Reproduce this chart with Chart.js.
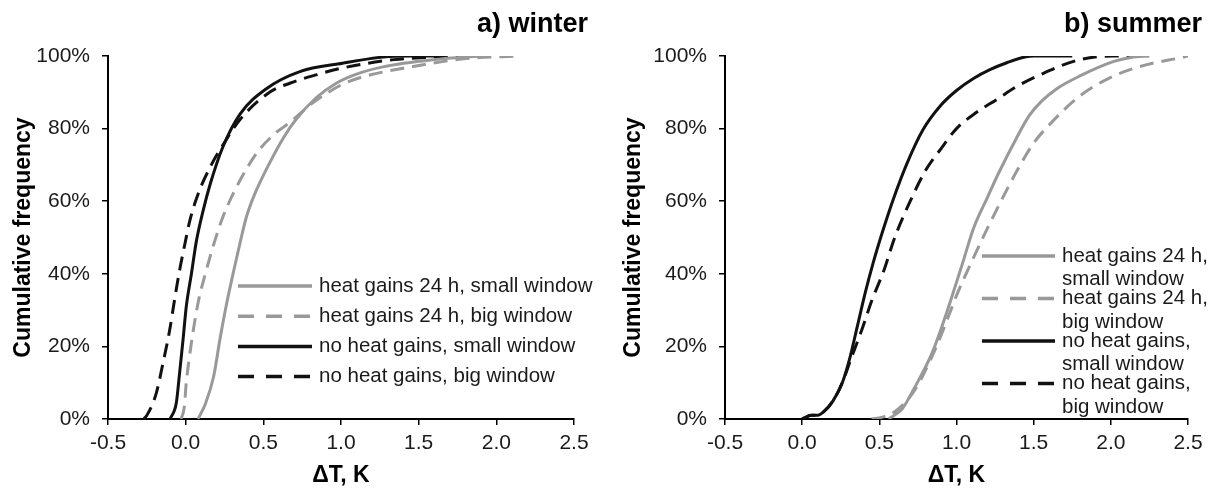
<!DOCTYPE html>
<html>
<head>
<meta charset="utf-8">
<script src="https://cdn.jsdelivr.net/npm/chart.js@4.4.1/dist/chart.umd.min.js"></script>
<style>
  html, body { margin: 0; padding: 0; background: #fff; }
  .panel { position: absolute; top: 0; height: 490px; }
  #winter { left: 0; width: 600px; }
  #summer { left: 610px; width: 604px; }
</style>
</head>
<body>
<div class="panel" id="winter"><canvas id="winterCanvas"></canvas></div>
<div class="panel" id="summer"><canvas id="summerCanvas"></canvas></div>
<script>
const seriesLabels = [
  'heat gains 24 h, small window',
  'heat gains 24 h, big window',
  'no heat gains, small window',
  'no heat gains, big window',
];
const xTicks = [-0.5, 0, 0.5, 1, 1.5, 2, 2.5];
const yTicks = [0, 20, 40, 60, 80, 100];

// a) winter, cumulative frequency (%) against dT (K)
const winterHeatSmallX = [0.08, 0.13, 0.18, 0.22, 0.26, 0.305, 0.35, 0.39, 0.445, 0.54, 0.63, 0.71, 0.84, 0.97, 1.1, 1.27, 1.6, 1.9];
const winterHeatSmallY = [0, 4.5, 11.7, 21.8, 31, 40, 48.5, 55.5, 62, 70.5, 77.5, 82.5, 88.5, 92.5, 95, 97, 99, 100];
const winterHeatBigX = [-0.03, -0.01, 0.004, 0.037, 0.08, 0.133, 0.187, 0.24, 0.305, 0.4, 0.48, 0.585, 0.68, 0.8, 0.9, 1.0, 1.12, 1.45, 1.81, 2.15];
const winterHeatBigY = [0, 3, 10, 21, 32, 41, 49, 55.7, 62, 69.5, 74.5, 79, 82, 86.5, 89.5, 92, 94, 97, 99.3, 100];
const winterNoHeatSmallX = [-0.1, -0.06, -0.039, -0.017, 0.004, 0.037, 0.069, 0.11, 0.16, 0.24, 0.35, 0.52, 0.735, 1.01, 1.27, 1.45, 1.6];
const winterNoHeatSmallY = [0, 4.5, 12.7, 21.8, 31, 40, 49, 57, 65, 75, 84, 91, 95.7, 98, 99.7, 100, 100];
const winterNoHeatBigX = [-0.27, -0.25, -0.19, -0.146, -0.103, -0.071, -0.039, -0.006, 0.026, 0.08, 0.165, 0.24, 0.35, 0.54, 0.67, 0.84, 1.01, 1.34, 1.6, 1.8];
const winterNoHeatBigY = [0, 1, 7, 15.4, 24.5, 33, 41, 48, 54.5, 62, 70, 75.5, 82.5, 90, 92.5, 94.8, 96.7, 99, 99.7, 100];

// b) summer
const summerHeatSmallX = [0.56, 0.65, 0.72, 0.84, 0.93, 0.98, 1.04, 1.11, 1.2, 1.27, 1.39, 1.47, 1.55, 1.65, 1.8, 2.02, 2.13, 2.25];
const summerHeatSmallY = [0, 2.9, 8, 18, 28.5, 35, 43, 52.5, 61, 67.5, 77.5, 83.5, 87.5, 91, 94.5, 98.5, 99.6, 100];
const summerHeatBigX = [0.45, 0.52, 0.6, 0.73, 0.86, 0.95, 1.01, 1.1, 1.2, 1.3, 1.4, 1.5, 1.6, 1.8, 2.02, 2.24, 2.45, 2.5];
const summerHeatBigY = [0, 0.5, 2, 8, 19, 28.5, 35, 43.5, 52.5, 61, 69, 76, 81, 89, 94.5, 97.7, 99.5, 100];
const summerNoHeatSmallX = [0.0, 0.06, 0.1, 0.14, 0.2, 0.26, 0.31, 0.36, 0.41, 0.46, 0.52, 0.59, 0.68, 0.78, 0.9, 1.0, 1.11, 1.22, 1.33, 1.45, 1.5, 1.75];
const summerNoHeatSmallY = [0, 1, 1, 2, 5, 10, 17, 26, 35, 43, 51.5, 60.5, 70.5, 79.5, 86.5, 90.5, 93.8, 96.3, 98.2, 99.8, 100, 100];
const summerNoHeatBigX = [0.0, 0.06, 0.1, 0.14, 0.2, 0.26, 0.32, 0.39, 0.45, 0.53, 0.6, 0.7, 0.8, 0.9, 1.0, 1.13, 1.26, 1.39, 1.55, 1.8, 2.02, 2.24];
const summerNoHeatBigY = [0, 1, 1, 2, 5, 10, 17, 25, 32.5, 41, 50, 60, 68.5, 74.5, 80, 84.5, 88, 91.6, 95, 99, 100, 100];

const FONT = "'Liberation Sans', Arial, sans-serif";
const GREY = '#999999';
const BLACK = '#111111';
const DASH = [14, 8];

function points(xs, ys) {
  return xs.map((x, i) => ({ x, y: ys[i] }));
}

function makeDatasets(series) {
  const styles = [
    { color: GREY, dash: [] },
    { color: GREY, dash: DASH },
    { color: BLACK, dash: [] },
    { color: BLACK, dash: DASH },
  ];
  return series.map((s, idx) => ({
    label: seriesLabels[idx],
    data: points(s[0], s[1]),
    borderColor: styles[idx].color,
    borderDash: styles[idx].dash,
    borderWidth: 3,
    pointRadius: 0,
    fill: false,
    cubicInterpolationMode: 'monotone',
  }));
}

// legend drawn inside the plot area, like the original
const insideLegend = {
  id: 'insideLegend',
  afterDatasetsDraw(chart, args, opts) {
    const { ctx, chartArea } = chart;
    ctx.save();
    ctx.font = `20.5px ${FONT}`;
    ctx.fillStyle = '#1a1a1a';
    ctx.textBaseline = 'middle';
    ctx.textAlign = 'left';
    let y = chartArea.top + opts.top;
    chart.data.datasets.forEach((ds) => {
      const x0 = chartArea.left + opts.left;
      ctx.beginPath();
      ctx.strokeStyle = ds.borderColor;
      ctx.lineWidth = 3.5;
      ctx.setLineDash(ds.borderDash.length ? [16, 12] : []);
      ctx.moveTo(x0, y);
      ctx.lineTo(x0 + opts.lineLength, y);
      ctx.stroke();
      ctx.setLineDash([]);
      let lines = [ds.label];
      if (opts.wrap) {
        const cut = ds.label.indexOf(', ') + 1;
        lines = [ds.label.slice(0, cut), ds.label.slice(cut + 1)];
      }
      lines.forEach((line, i) => {
        ctx.fillText(line, x0 + opts.lineLength + 7, y + i * opts.lineHeight);
      });
      y += opts.rowHeight;
    });
    ctx.restore();
  },
};

const panelTitle = {
  id: 'panelTitle',
  afterDraw(chart, args, opts) {
    const { ctx, chartArea } = chart;
    ctx.save();
    ctx.font = `bold 27px ${FONT}`;
    ctx.fillStyle = '#000';
    ctx.textAlign = 'right';
    ctx.textBaseline = 'middle';
    ctx.fillText(opts.text, chartArea.right + 14, 25);
    ctx.restore();
  },
};

function cdfChart(canvasId, title, series, yAxisWidth, legendOpts) {
  const ctx = document.getElementById(canvasId).getContext('2d');
  return new Chart(ctx, {
    type: 'line',
    data: { datasets: makeDatasets(series) },
    options: {
      responsive: true,
      maintainAspectRatio: false,
      animation: false,
      layout: { padding: { top: 56, right: 26, bottom: 0, left: 0 } },
      plugins: {
        legend: { display: false },
        tooltip: { enabled: false },
        insideLegend: legendOpts,
        panelTitle: { text: title },
      },
      scales: {
        x: {
          type: 'linear',
          min: -0.5,
          max: 2.5,
          afterBuildTicks: (scale) => { scale.ticks = xTicks.map((v) => ({ value: v })); },
          afterFit: (scale) => { scale.height = 71; },
          border: { color: '#000', width: 2 },
          grid: { drawOnChartArea: false, color: '#000', lineWidth: 1.5, tickLength: 6 },
          ticks: {
            color: '#1a1a1a',
            font: { family: FONT, size: 21 },
            padding: 6,
            maxRotation: 0,
            callback: (v) => v.toFixed(1),
          },
          title: {
            display: true,
            text: 'ΔT, K',
            color: '#000',
            font: { family: FONT, size: 23, weight: 'bold' },
            padding: { top: 0, bottom: 1 },
          },
        },
        y: {
          min: 0,
          max: 100,
          afterBuildTicks: (scale) => { scale.ticks = yTicks.map((v) => ({ value: v })); },
          afterFit: (scale) => { scale.width = yAxisWidth; },
          border: { color: '#000', width: 2 },
          grid: { drawOnChartArea: false, color: '#000', lineWidth: 1.5, tickLength: 6 },
          ticks: {
            color: '#1a1a1a',
            font: { family: FONT, size: 21 },
            padding: 12,
            callback: (v) => `${v}%`,
          },
          title: {
            display: true,
            text: 'Cumulative frequency',
            color: '#000',
            font: { family: FONT, size: 23, weight: 'bold' },
            padding: { top: 10, bottom: 0 },
          },
        },
      },
    },
    plugins: [insideLegend, panelTitle],
  });
}

cdfChart('winterCanvas', 'a) winter', [
  [winterHeatSmallX, winterHeatSmallY],
  [winterHeatBigX, winterHeatBigY],
  [winterNoHeatSmallX, winterNoHeatSmallY],
  [winterNoHeatBigX, winterNoHeatBigY],
], 108, { left: 130, top: 230, lineLength: 74, rowHeight: 30.2, lineHeight: 0, wrap: false });

cdfChart('summerCanvas', 'b) summer', [
  [summerHeatSmallX, summerHeatSmallY],
  [summerHeatBigX, summerHeatBigY],
  [summerNoHeatSmallX, summerNoHeatSmallY],
  [summerNoHeatBigX, summerNoHeatBigY],
], 115, { left: 257, top: 200, lineLength: 73, rowHeight: 42.5, lineHeight: 23.5, wrap: true });
</script>
</body>
</html>
